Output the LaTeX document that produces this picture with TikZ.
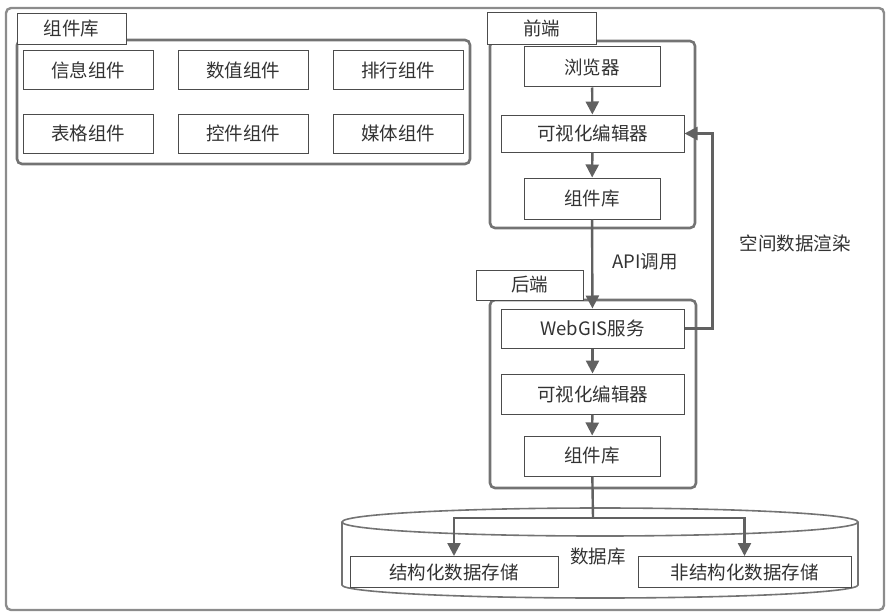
\documentclass[tikz,border=0pt]{standalone}
\usepackage{fontspec}
\setmainfont{Noto Sans CJK SC}
\usetikzlibrary{arrows.meta}
\begin{document}
\begin{tikzpicture}[x=1pt,y=-1pt,
  box/.style={draw=black!70,line width=1pt,fill=white,inner sep=0pt,
    font=\fontsize{18.5}{20}\selectfont,text=black!80},
  tab/.style={box,line width=0.9pt},
  group/.style={draw=black!55,line width=2.6pt,rounded corners=5pt},
  arr/.style={draw=black!62,line width=2.4pt,-{Triangle[length=13pt,width=13pt]}},
  lbl/.style={font=\fontsize{18.5}{20}\selectfont,text=black!80}]
\useasboundingbox (0,0) rectangle (890,615);
\draw[draw=black!45,line width=2.4pt,rounded corners=5pt] (6,8) rectangle (884,610);
\draw[group] (17,40) rectangle (470,164);
\node[tab,minimum width=109pt,minimum height=31pt] (lib) at (71.5,28.5) {组件库};
\node[box,minimum width=130pt,minimum height=39pt] (c1) at (88,70.5) {信息组件};
\node[box,minimum width=130pt,minimum height=39pt] (c2) at (243,70.5) {数值组件};
\node[box,minimum width=130pt,minimum height=39pt] (c3) at (398,70.5) {排行组件};
\node[box,minimum width=130pt,minimum height=39pt] (c4) at (88,133.5) {表格组件};
\node[box,minimum width=130pt,minimum height=39pt] (c5) at (243,133.5) {控件组件};
\node[box,minimum width=130pt,minimum height=39pt] (c6) at (398,133.5) {媒体组件};
\draw[group] (490,41) rectangle (695,228);
\node[tab,minimum width=109pt,minimum height=32pt] (fe) at (541.5,28) {前端};
\node[box,minimum width=136pt,minimum height=40pt] (fe1) at (592,67) {浏览器};
\node[box,minimum width=183pt,minimum height=37pt] (fe2) at (592.5,133.5) {可视化编辑器};
\node[box,minimum width=136pt,minimum height=41pt] (fe3) at (592,198.5) {组件库};
\draw[group] (490,300) rectangle (696,488);
\node[tab,minimum width=107pt,minimum height=30pt] (be) at (529.5,285) {后端};
\node[box,minimum width=183pt,minimum height=39pt] (be1) at (592.5,328.5) {WebGIS服务};
\node[box,minimum width=183pt,minimum height=40pt] (be2) at (592.5,394) {可视化编辑器};
\node[box,minimum width=136pt,minimum height=40pt] (be3) at (592,456) {组件库};
\node[lbl] (api) at (645,262) {API调用};
\node[lbl] (render) at (795,243) {空间数据渲染};
\draw[arr] (fe1) -- (fe2);
\draw[arr] (fe2) -- (fe3);
\draw[arr] (fe3) -- (be1);
\draw[arr] (be1) -- (be2);
\draw[arr] (be2) -- (be3);
\draw[arr] (be1.east) -- ++(28,0) |- (fe2.east);
\draw[draw=black!55,line width=1.6pt] (342,522) -- (342,585) arc[start angle=180,end angle=0,x radius=258,y radius=13] -- (858,522);
\draw[draw=black!55,line width=1.6pt] (600,522) ellipse[x radius=258,y radius=14];
\node[box,minimum width=208pt,minimum height=31pt] (s1) at (454,572) {结构化数据存储};
\node[box,minimum width=213pt,minimum height=31pt] (s2) at (744.5,572) {非结构化数据存储};
\node[lbl] (db) at (598,556) {数据库};
\coordinate (j) at (593,518);
\draw[draw=black!62,line width=2.4pt] (be3) -- (j);
\draw[arr] (j) -| (s1.north);
\draw[arr] (j) -| (s2.north);
\end{tikzpicture}
\end{document}
